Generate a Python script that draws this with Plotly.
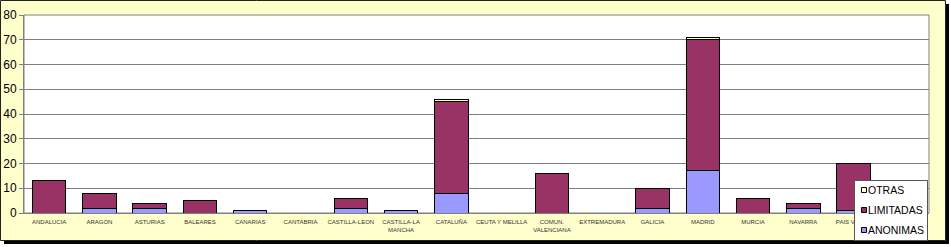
import plotly.graph_objects as go

categories = ["ANDALUCIA", "ARAGON", "ASTURIAS", "BALEARES", "CANARIAS", "CANTABRIA",
              "CASTILLA-LEON", "CASTILLA-LA<br>MANCHA", "CATALUÑA", "CEUTA Y MELILLA",
              "COMUN.<br>VALENCIANA", "EXTREMADURA", "GALICIA", "MADRID", "MURCIA",
              "NAVARRA", "PAIS VASCO", "LA RIOJA"]
anonimas  = [0, 2, 2, 0, 1, 0, 2, 1, 8, 0, 0, 0, 2, 17, 0, 2, 1, 0]
limitadas = [13, 6, 2, 5, 0, 0, 4, 0, 37, 0, 16, 0, 8, 53, 6, 2, 19, 0]
otras     = [0, 0, 0, 0, 0, 0, 0, 0, 1, 0, 0, 0, 0, 1, 0, 0, 0, 0]
series_names = ["OTRAS", "LIMITADAS", "ANONIMAS"]
series_colors = {"ANONIMAS": "#9999FF", "LIMITADAS": "#993366", "OTRAS": "#FFFFCC"}
y_ticks = [0, 10, 20, 30, 40, 50, 60, 70, 80]

W, H = 951, 247
L, R, T, B = 24, 929, 15, 213

def px(x):
    return (x - L) / (R - L)

def py(y):
    return (B - y) / (B - T)

fig = go.Figure()
line = dict(color="black", width=1)
for name, vals in [("ANONIMAS", anonimas), ("LIMITADAS", limitadas), ("OTRAS", otras)]:
    fig.add_trace(go.Bar(name=name, x=categories, y=vals,
                         marker=dict(color=series_colors[name], line=line)))

shapes = [
    # area outside the chart frame (white)
    dict(type="rect", xref="paper", yref="paper", x0=px(946), x1=px(960), y0=py(-5), y1=py(260),
         fillcolor="white", line=dict(width=0), layer="below"),
    dict(type="rect", xref="paper", yref="paper", x0=px(-5), x1=px(960), y0=py(241), y1=py(260),
         fillcolor="white", line=dict(width=0), layer="below"),
    # shadow
    dict(type="rect", xref="paper", yref="paper", x0=px(4), x1=px(949), y0=py(241), y1=py(244),
         fillcolor="black", line=dict(width=0), layer="below"),
    dict(type="rect", xref="paper", yref="paper", x0=px(946), x1=px(949), y0=py(4), y1=py(244),
         fillcolor="black", line=dict(width=0), layer="below"),
    # frame
    dict(type="rect", xref="paper", yref="paper", x0=px(0.5), x1=px(945.5), y0=py(0.5), y1=py(240.5),
         fillcolor="rgba(0,0,0,0)", line=dict(color="#222222", width=1), layer="below"),
    # plot area border
    dict(type="rect", xref="paper", yref="paper", x0=0, x1=1, y0=0, y1=1,
         fillcolor="rgba(0,0,0,0)", line=dict(color="#808080", width=1), layer="below"),
    # legend box
    dict(type="rect", xref="paper", yref="paper", x0=px(854.5), x1=px(927.5), y0=py(180.5), y1=py(240.5),
         fillcolor="white", line=dict(color="#555555", width=1), layer="above"),
]
annotations = []
for i, name in enumerate(series_names):
    cy = 190 + 20 * i
    shapes.append(dict(type="rect", xref="paper", yref="paper",
                       x0=px(861.5), x1=px(866.5), y0=py(cy - 2.5), y1=py(cy + 2.5),
                       fillcolor=series_colors[name], line=dict(color="black", width=1),
                       layer="above"))
    annotations.append(dict(text=name, xref="paper", yref="paper", x=px(866), y=py(cy),
                            xanchor="left", yanchor="middle", showarrow=False,
                            font=dict(size=10.5, color="black")))

fig.update_layout(
    width=W, height=H,
    margin=dict(l=L, r=W - R, t=T, b=H - B, pad=0, autoexpand=False),
    paper_bgcolor="#FFFFCC",
    plot_bgcolor="white",
    barmode="stack",
    bargap=0.335,
    font=dict(family="Arial, Liberation Sans, sans-serif", color="black"),
    showlegend=False,
    shapes=shapes,
    annotations=annotations,
    xaxis=dict(tickangle=0, tickfont=dict(size=6, color="#333333"),
               showline=True, linecolor="#808080", showgrid=False, ticks="",
               ticklabelstandoff=3, automargin=False),
    yaxis=dict(range=[0, 80], tickvals=y_ticks, tickfont=dict(size=12, color="black"),
               showgrid=True, gridcolor="#808080", gridwidth=1,
               showline=True, linecolor="#808080", ticks="outside", ticklen=4,
               tickcolor="#808080", zeroline=False, automargin=False),
)

fig.write_html("out.html")
